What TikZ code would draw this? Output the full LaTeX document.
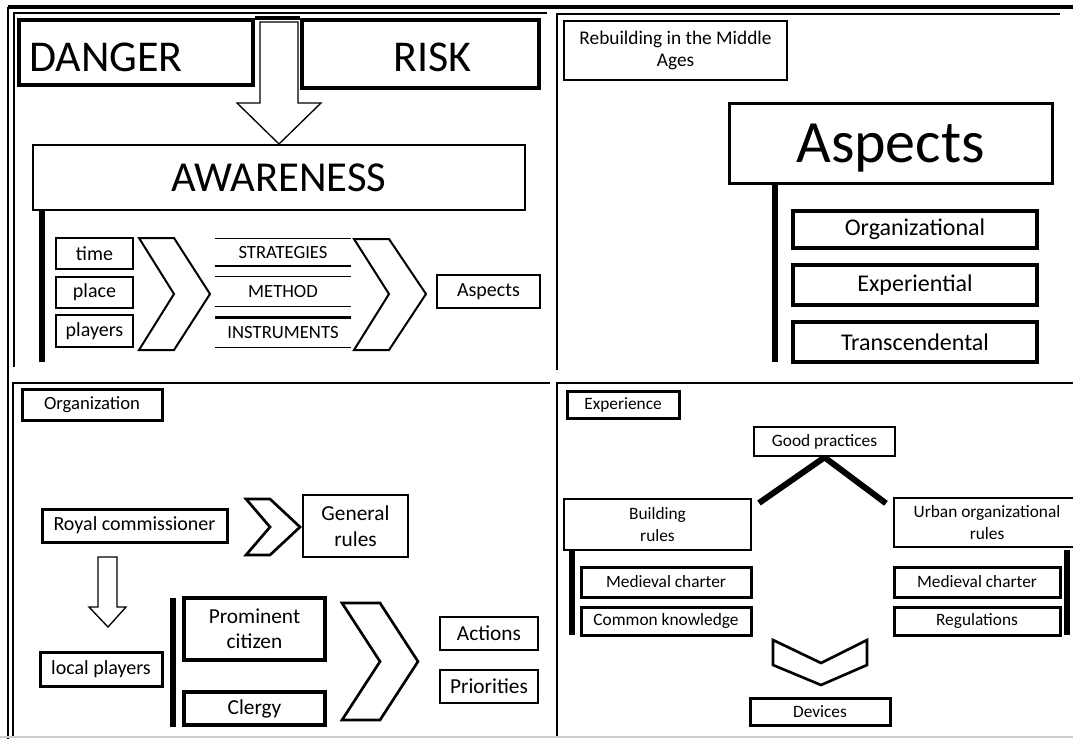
\documentclass[tikz,border=0pt]{standalone}
\usepackage{fontspec}
\setmainfont{Carlito}
\tikzstyle{box} = [rectangle, draw=black, line width=1.5pt, align=center, inner sep=0pt, font=\fontsize{15}{17}\selectfont]
\tikzstyle{heavybox} = [box, line width=3pt]
\tikzstyle{thinbox} = [box, line width=1pt]
\tikzstyle{ruled} = [rectangle, inner sep=0pt, align=center, font=\fontsize{14}{16}\selectfont]
\tikzstyle{bar} = [line width=4.5pt]
\tikzstyle{chev} = [draw=black, fill=white, line width=1.5pt, line join=miter]
\tikzstyle{frame} = [line width=1pt]

\begin{document}
\begin{tikzpicture}[x=0.75pt, y=-0.75pt]
\useasboundingbox (0,0) rectangle (1073,739);

% Frames
\draw [line width=3pt] (8,7) -- (1073,7);
\draw [line width=1.5pt] (8,7) -- (8,739);
\draw [frame] (14,367) -- (14,13) -- (547,13);
\draw [frame] (557,370) -- (557,14) -- (1060,14);
\draw [frame] (13,736) -- (13,383) -- (550,383);
\draw [frame] (557,736) -- (557,383) -- (1073,383);
\draw [gray!40, line width=1pt] (0,737) -- (1073,737);

% Danger and risk
\node (danger) [heavybox, minimum width=175.5pt, minimum height=48.75pt, text width=160pt, text height=28pt, align=left, font=\fontsize{33}{36}\selectfont] at (136,52.5) {DANGER};
\node (risk) [heavybox, minimum width=177.75pt, minimum height=51pt, text width=77pt, text height=27pt, align=right, font=\fontsize{33}{36}\selectfont] at (420.5,54) {RISK};
\draw [line width=3pt] (danger.north east) -- (risk.north west);
\node (aware) [box, minimum width=369pt, minimum height=48.75pt, font=\fontsize{32}{36}\selectfont] at (279,177.5) {AWARENESS};
\draw [chev, line width=1pt] (aware.north) -- (237,103) -- (260,103) -- (260,22) -- (298,22) -- (298,103) -- (321,103) -- cycle;
\draw [bar] (42,210) -- (42,362);

\node (time) [thinbox, minimum width=57.75pt, minimum height=23.25pt] at (94.5,253.5) {time};
\node (place) [thinbox, minimum width=57.75pt, minimum height=23.25pt] at (94.5,292.5) {place};
\node (players) [thinbox, minimum width=57.75pt, minimum height=24pt] at (94.5,331) {players};
\draw [chev] (139,238) -- (174,238) -- (210,294) -- (174,350) -- (139,350) -- (174,294) -- cycle;

\node (strat) [ruled, minimum width=102pt, minimum height=20.25pt] at (283,252.5) {STRATEGIES};
\node (method) [ruled, minimum width=102pt, minimum height=21.75pt] at (283,291.5) {METHOD};
\node (instr) [ruled, minimum width=102pt, minimum height=21.75pt] at (283,332.5) {INSTRUMENTS};
\draw [line width=1pt] (strat.north west) -- (strat.north east);
\draw [line width=1.5pt] (strat.south west) -- (strat.south east);
\draw [line width=1pt] (method.north west) -- (method.north east);
\draw [line width=1pt] (method.south west) -- (method.south east);
\draw [line width=2pt] (instr.north west) -- (instr.north east);
\draw [line width=1pt] (instr.south west) -- (instr.south east);
\draw [chev] (354,239) -- (389,239) -- (426,294) -- (389,350) -- (354,350) -- (389,294) -- cycle;
\node (aspsmall) [thinbox, minimum width=77.25pt, minimum height=24.75pt] at (488.5,291.5) {Aspects};

% Rebuilding
\node (title) [box, line width=2pt, minimum width=167.25pt, minimum height=44.25pt, font=\fontsize{14.5}{17}\selectfont] at (675.5,50.5) {Rebuilding in the Middle\\Ages};
\node (aspects) [box, line width=2.25pt, minimum width=242.25pt, minimum height=60pt, text depth=0pt, font=\fontsize{45}{50}\selectfont] at (890.5,143) {Aspects};
\draw [bar] (775,183) -- (775,362);
\node (orga) [heavybox, minimum width=183pt, minimum height=27.75pt, font=\fontsize{18}{20}\selectfont] at (915,229.5) {Organizational};
\node (expe) [heavybox, minimum width=183pt, minimum height=30pt, font=\fontsize{18}{20}\selectfont] at (915,285) {Experiential};
\node (trans) [heavybox, minimum width=183pt, minimum height=30pt, font=\fontsize{18}{20}\selectfont] at (915,342) {Transcendental};

% Organization
\node (orgtitle) [heavybox, line width=2.25pt, minimum width=105pt, minimum height=23.25pt, font=\fontsize{14}{16}\selectfont] at (92,404.5) {Organization};
\node (royal) [heavybox, line width=2.25pt, minimum width=138.75pt, minimum height=24.75pt] at (134.5,525.5) {Royal commissioner};
\draw [chev, line width=2pt] (246,499) -- (270,499) -- (300,527) -- (270,555) -- (246,555) -- (270,527) -- cycle;
\node (general) [box, minimum width=78.75pt, minimum height=46.5pt, font=\fontsize{16}{19}\selectfont] at (355.5,526) {General\\rules};
\draw [chev, line width=1pt] (108,627) -- (89,607) -- (98,607) -- (98,557) -- (117,557) -- (117,607) -- (126,607) -- cycle;
\node (local) [heavybox, line width=2.25pt, minimum width=91.5pt, minimum height=25.5pt] at (101,669) {local players};
\draw [bar] (173,598) -- (173,727);
\node (prom) [heavybox, minimum width=105.75pt, minimum height=46.5pt, font=\fontsize{16}{19}\selectfont] at (254.5,629) {Prominent\\citizen};
\node (clergy) [heavybox, minimum width=105.75pt, minimum height=24.75pt, font=\fontsize{16}{19}\selectfont] at (254.5,708.5) {Clergy};
\draw [chev, line width=2pt] (342,603) -- (380,603) -- (418,661.5) -- (380,720) -- (342,720) -- (380,661.5) -- cycle;
\node (actions) [thinbox, minimum width=73.5pt, minimum height=24.75pt, font=\fontsize{16}{19}\selectfont] at (489,633.5) {Actions};
\node (prior) [thinbox, minimum width=73.5pt, minimum height=24.75pt, font=\fontsize{16}{19}\selectfont] at (489,686.5) {Priorities};

% Experience
\node (exper) [heavybox, line width=2.25pt, minimum width=84pt, minimum height=20.25pt, font=\fontsize{13}{15}\selectfont] at (623,404.5) {Experience};
\node (good) [box, line width=2pt, minimum width=105.75pt, minimum height=21.75pt, font=\fontsize{13}{15}\selectfont] at (824.5,441.5) {Good practices};
\node (build) [box, line width=2pt, minimum width=140.25pt, minimum height=38.25pt, font=\fontsize{13}{16}\selectfont] at (657.5,524.5) {Building\\rules};
\node (urban) [box, line width=2pt, minimum width=139.5pt, minimum height=36.75pt, font=\fontsize{13}{16}\selectfont] at (987,522.5) {Urban organizational\\rules};
\draw [bar] (good.south) -- ([shift={(5pt,-4pt)}]build.north east);
\draw [bar] (good.south) -- ([shift={(-5pt,-5pt)}]urban.north west);
\draw [bar] (572,550) -- (572,635);
\draw [bar] (1067,550) -- (1067,635);
\node (medl) [heavybox, line width=2.25pt, minimum width=127.5pt, minimum height=22.5pt, font=\fontsize{13}{15}\selectfont] at (666,582) {Medieval charter};
\node (common) [heavybox, line width=2.25pt, minimum width=127.5pt, minimum height=21pt, font=\fontsize{13}{15}\selectfont] at (666,621) {Common knowledge};
\node (medr) [heavybox, line width=2.25pt, minimum width=124.5pt, minimum height=22.5pt, font=\fontsize{13}{15}\selectfont] at (977,582) {Medieval charter};
\node (regul) [heavybox, line width=2.25pt, minimum width=124.5pt, minimum height=21pt, font=\fontsize{13}{15}\selectfont] at (977,621) {Regulations};
\draw [chev, line width=2pt] (773,640) -- (821,663) -- (867,640) -- (867,665) -- (821,685) -- (773,665) -- cycle;
\node (devices) [heavybox, line width=2.25pt, minimum width=105pt, minimum height=20.25pt, font=\fontsize{13}{15}\selectfont] at (820,711.5) {Devices};

\end{tikzpicture}
\end{document}
